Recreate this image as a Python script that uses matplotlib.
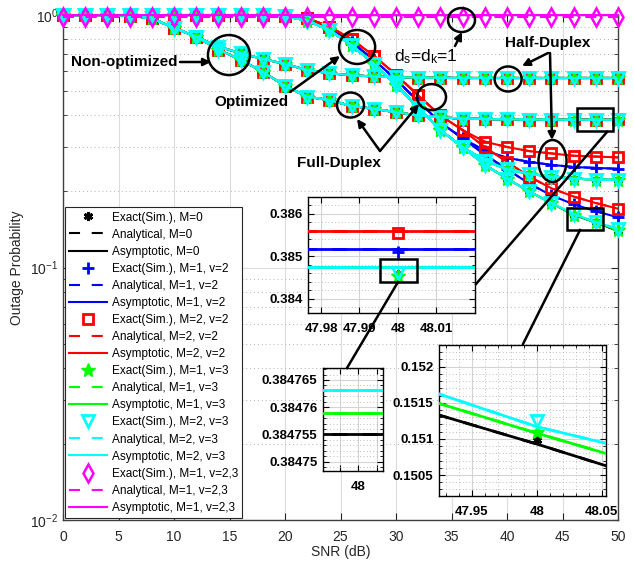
import matplotlib
matplotlib.use('Agg')
import numpy as np
import matplotlib.pyplot as plt
from matplotlib.patches import Ellipse, Rectangle
from matplotlib.lines import Line2D
from matplotlib.ticker import LogLocator, MultipleLocator, FormatStrFormatter, NullFormatter

plt.rcParams['font.family'] = ['Liberation Sans', 'DejaVu Sans']
plt.rcParams['mathtext.fontset'] = 'custom'
plt.rcParams['mathtext.rm'] = 'Liberation Sans'
plt.rcParams['mathtext.it'] = 'Liberation Sans:italic'
plt.rcParams['mathtext.bf'] = 'Liberation Sans:bold'

# SNR grid used by every curve (dB)
snr_db = [0, 2, 4, 6, 8, 10, 12, 14, 16, 18, 20, 22, 24, 26, 28, 30, 32, 34, 36, 38, 40, 42, 44, 46, 48, 50]

cases = ['M=0', 'M=1, v=2', 'M=2, v=2', 'M=1, v=3', 'M=2, v=3']

# non-optimized half-duplex (same for every case)
hd_plain = [1.0, 1.0, 1.0, 0.995, 0.97, 0.89, 0.82, 0.75, 0.705, 0.67, 0.64, 0.605, 0.588,
            0.577, 0.571, 0.567, 0.565, 0.564, 0.563, 0.563, 0.563, 0.563, 0.563, 0.563, 0.563, 0.563]

# non-optimized full-duplex up to 44 dB, then the floor of each case (46-50 dB)
fd_plain_head = [1.0, 1.0, 1.0, 0.995, 0.97, 0.89, 0.82, 0.73, 0.665, 0.595, 0.525, 0.475,
                 0.46, 0.436, 0.425, 0.412, 0.40, 0.393, 0.389, 0.387, 0.386, 0.3855, 0.3852]
fd_plain_floor = [0.384755, 0.38518, 0.38561, 0.384759, 0.3847632]

# optimized: descent up to 36 dB
opt_head_low = [1.0, 1.0, 1.0, 1.0, 1.0, 1.0, 1.0, 1.0, 1.0, 1.0,
                0.99, 0.95, 0.87, 0.76, 0.64, 0.53, 0.43, 0.35, 0.30]
opt_head_m1v2 = [1.0, 1.0, 1.0, 1.0, 1.0, 1.0, 1.0, 1.0, 1.0, 1.0,
                 0.99, 0.96, 0.88, 0.78, 0.665, 0.555, 0.455, 0.375, 0.325]
opt_head_m2v2 = [1.0, 1.0, 1.0, 1.0, 1.0, 1.0, 1.0, 1.0, 1.0, 1.0,
                 0.995, 0.97, 0.90, 0.80, 0.69, 0.58, 0.48, 0.40, 0.35]
opt_head = [opt_head_low, opt_head_m1v2, opt_head_m2v2, opt_head_low, opt_head_low]

# optimized tails, 38-50 dB
hd_opt_tail = [
    [0.265, 0.245, 0.235, 0.229, 0.225, 0.223, 0.222],
    [0.29, 0.272, 0.262, 0.255, 0.25, 0.248, 0.246],
    [0.315, 0.300, 0.289, 0.283, 0.277, 0.275, 0.273],
    [0.265, 0.245, 0.235, 0.229, 0.225, 0.223, 0.222],
    [0.265, 0.245, 0.235, 0.229, 0.225, 0.223, 0.222],
]
fd_opt_tail = [
    [0.255, 0.225, 0.200, 0.180, 0.16159, 0.15093, 0.13961],
    [0.28, 0.245, 0.215, 0.193, 0.178, 0.167, 0.158],
    [0.30, 0.262, 0.229, 0.206, 0.191, 0.180, 0.171],
    [0.255, 0.225, 0.200, 0.180, 0.16202, 0.15108, 0.14052],
    [0.255, 0.225, 0.200, 0.180, 0.1632, 0.15117, 0.1425],
]

# simulated points at 48 dB (full-duplex)
sim48_fd_plain = [0.38458, 0.38511, 0.38555, 0.38455, 0.38462]
sim48_fd_opt = [0.15098, 0.167, 0.180, 0.15109, 0.15125]

# d_s = d_k = 1, M=1, v=2,3
ds1_sim = [0.985, 0.985, 0.985, 0.985, 0.985, 0.985, 0.985, 0.985, 0.985, 0.985, 0.985, 0.985, 0.985,
           0.985, 0.985, 0.985, 0.985, 0.985, 0.985, 0.985, 0.985, 0.985, 0.985, 0.985, 0.985, 0.985]
ds1_asym = [1.0, 1.0, 1.0, 1.0, 1.0, 1.0, 1.0, 1.0, 1.0, 1.0, 1.0, 1.0, 1.0,
            1.0, 1.0, 1.0, 1.0, 1.0, 1.0, 1.0, 1.0, 1.0, 1.0, 1.0, 1.0, 1.0]

colors = ['#000000', '#0000ff', '#ff0000', '#00ff00', '#00ffff']
MAGENTA = '#ff00ff'
marks = [dict(marker=(6, 2, 0), ms=6.5, mew=2),
         dict(marker='+', ms=8, mew=2),
         dict(marker='s', ms=7, mew=2, mfc='none'),
         dict(marker='*', ms=10.5, mew=1),
         dict(marker='v', ms=9, mew=2, mfc='none')]
DASH = (0, (5.3, 5.6))

W, H = 634, 571
i48 = snr_db.index(48)


def fp(x, y):
    # figure pixel (from top-left) -> figure fraction
    return x / W, 1 - y / H


def box(x0, y0, x1, y1):
    return [x0 / W, 1 - y1 / H, (x1 - x0) / W, (y1 - y0) / H]


def curves(i):
    f = fd_plain_floor[i]
    fd_p = fd_plain_head + [f, f, f]
    hd_o = opt_head[i] + hd_opt_tail[i]
    fd_o = opt_head[i] + fd_opt_tail[i]
    lines = [hd_plain, fd_p, hd_o, fd_o]
    fd_p_sim = list(fd_p)
    fd_p_sim[i48] = sim48_fd_plain[i]
    fd_o_sim = list(fd_o)
    fd_o_sim[i48] = sim48_fd_opt[i]
    return lines, [hd_plain, fd_p_sim, hd_o, fd_o_sim]


def draw_all(a, lw, clip):
    for i, case in enumerate(cases):
        c = colors[i]
        lines, sims = curves(i)
        for k, y in enumerate(sims):
            a.plot(snr_db, y, ls='none', color=c, clip_on=clip, zorder=3,
                   label=f'Exact(Sim.), {case}' if k == 0 else None, **marks[i])
        for k, y in enumerate(lines):
            a.plot(snr_db, y, ls=DASH, color=c, lw=lw, zorder=3,
                   label=f'Analytical, {case}' if k == 0 else None)
        for k, y in enumerate(lines):
            a.plot(snr_db, y, '-', color=c, lw=lw, zorder=3,
                   label=f'Asymptotic, {case}' if k == 0 else None)
    a.plot(snr_db, ds1_sim, ls='none', color=MAGENTA, marker='d', ms=9.2, mew=1.8, mfc='none',
           clip_on=clip, zorder=3, label='Exact(Sim.), M=1, v=2,3')
    a.plot(snr_db, ds1_sim, ls=DASH, color=MAGENTA, lw=lw, zorder=3, label='Analytical, M=1, v=2,3')
    a.plot(snr_db, ds1_asym, '-', color=MAGENTA, lw=lw, zorder=3, clip_on=clip,
           label='Asymptotic, M=1, v=2,3')


fig = plt.figure(figsize=(W / 100, H / 100), dpi=100)
ax = fig.add_axes(box(63, 15, 618, 520))
draw_all(ax, 1.5, False)

ax.set_yscale('log')
ax.set_xlim(0, 50)
ax.set_ylim(1e-2, 1)
ax.xaxis.set_major_locator(MultipleLocator(5))
ax.yaxis.set_major_locator(LogLocator(base=10))
ax.yaxis.set_minor_locator(LogLocator(base=10, subs=np.arange(2, 10)))
ax.yaxis.set_minor_formatter(NullFormatter())
ax.set_axisbelow(True)
ax.grid(which='major', color='#dcdcdc', lw=0.8, ls='-')
ax.grid(which='minor', axis='y', color='#b0b0b0', lw=0.7, ls=(0, (1, 3)))
ax.tick_params(which='both', direction='in', top=True, right=True, colors='#262626', labelsize=10)
ax.tick_params(which='major', length=5)
ax.tick_params(which='minor', length=3)
ax.tick_params(axis='x', pad=7)
for s in ax.spines.values():
    s.set_color('#404040')
    s.set_linewidth(1)
ax.set_xlabel('SNR (dB)', fontsize=10, color='#262626', labelpad=1)
ax.set_ylabel('Outage Probability', fontsize=10, color='#262626')

leg = ax.legend(loc='lower left', bbox_to_anchor=(0.004, 0.004), borderaxespad=0, fontsize=8.5,
                handlelength=3.2, handletextpad=0.4, labelspacing=0.43, borderpad=0.35,
                fancybox=False, edgecolor='#262626', framealpha=1, numpoints=1)
leg.get_frame().set_linewidth(0.8)
leg.set_zorder(20)

# annotations on the main axes
AX_W, AX_H = 555, 505


def ring(x, y, w, h):
    cx, cy = ax.transAxes.inverted().transform(ax.transData.transform((x, y)))
    ax.add_patch(Ellipse((cx, cy), w / AX_W, h / AX_H, transform=ax.transAxes,
                         fill=False, ec='k', lw=1.8, zorder=8, clip_on=False))


ring(14.95, 0.694, 42, 40)
ring(26.5, 0.747, 36, 34)
ring(35.9, 0.955, 27, 24)
ring(40.1, 0.558, 27, 25)
ring(44.1, 0.264, 28, 42)
ring(25.9, 0.440, 27, 25)
ring(33.2, 0.473, 29, 26)

ax.add_patch(Rectangle((46.3, 0.3475), 3.25, 0.0805, fill=False, ec='k', lw=1.8, zorder=8))
ax.add_patch(Rectangle((45.4, 0.141), 3.25, 0.031, fill=False, ec='k', lw=1.8, zorder=8))


def arrow(x0, y0, x1, y1):
    ax.annotate('', xy=fp(x1, y1), xytext=fp(x0, y0), xycoords='figure fraction',
                textcoords='figure fraction', annotation_clip=False,
                arrowprops=dict(arrowstyle='-|>', lw=1.8, color='k', mutation_scale=11,
                                shrinkA=0, shrinkB=0))


def label(x, y, s, **kw):
    fig.text(*fp(x, y), s, ha='center', va='center', **kw)


label(124, 62, 'Non-optimized', fontsize=11, fontweight='bold')
arrow(180, 62, 211, 62)
label(251, 102, 'Optimized', fontsize=11, fontweight='bold')
arrow(290, 92, 340, 56)
label(426, 57, r'd$_\mathrm{s}$=d$_\mathrm{k}$=1', fontsize=12.5)
arrow(455, 46, 462, 32)
label(548, 43, 'Half-Duplex', fontsize=11, fontweight='bold')
arrow(548, 53, 522, 66)
arrow(550, 53, 552, 140)
label(339, 163, 'Full-Duplex', fontsize=11, fontweight='bold')
arrow(380, 151, 357, 119)
arrow(380, 151, 419, 104)


def style_inset(a, xt, yt, ymin_step, xmin_step=None):
    a.set_facecolor('white')
    a.set_xticks(xt)
    a.set_yticks(yt)
    a.yaxis.set_minor_locator(MultipleLocator(ymin_step))
    if xmin_step:
        a.xaxis.set_minor_locator(MultipleLocator(xmin_step))
    a.xaxis.set_major_formatter(FormatStrFormatter('%g'))
    a.yaxis.set_major_formatter(FormatStrFormatter('%g'))
    a.set_axisbelow(True)
    a.grid(which='major', color='#d4d4d4', lw=0.8)
    a.grid(which='minor', color='#a8a8a8', lw=0.6, ls=(0, (1, 3)))
    a.tick_params(which='both', direction='in', top=True, right=True, labelsize=9.5)
    a.tick_params(which='major', length=4)
    a.tick_params(which='minor', length=2)
    a.tick_params(axis='x', pad=7)
    a.tick_params(axis='y', pad=4)
    for s in a.spines.values():
        s.set_color('k')
        s.set_linewidth(1)
    for t in a.get_xticklabels() + a.get_yticklabels():
        t.set_fontweight('bold')


# zoom on the full-duplex floor at 48 dB
ins1 = fig.add_axes(box(308, 197, 475, 313))
draw_all(ins1, 2, True)
ins1.set_xlim(47.9766, 48.0202)
ins1.set_ylim(0.38367, 0.3864)
style_inset(ins1, [47.98, 47.99, 48, 48.01], [0.384, 0.385, 0.386], 0.0002)
ins1.add_patch(Rectangle((47.9954, 0.3844), 0.0097, 0.00054, fill=False, ec='k', lw=1.8, zorder=8))

# second level zoom
ins3 = fig.add_axes(box(323, 368, 383, 471))
draw_all(ins3, 2, True)
ins3.set_xlim(47.99962, 48.00027)
ins3.set_ylim(0.3847483, 0.3847672)
style_inset(ins3, [47.9998, 48, 48.0002], [0.38475, 0.384755, 0.38476, 0.384765], 0.000001)
ins3.set_xticklabels(['', '48', ''], fontweight='bold')

# zoom on the optimized full-duplex curves at 48 dB
ins2 = fig.add_axes(box(439, 345, 606, 496))
draw_all(ins2, 2, True)
ins2.set_xlim(47.9249, 48.0533)
ins2.set_ylim(0.15021, 0.1523)
style_inset(ins2, [47.95, 48, 48.05], [0.1505, 0.151, 0.1515, 0.152], 0.0001, 0.01)

# connector lines between zoom boxes and insets
for (x0, y0), (x1, y1) in [((607, 132), (476, 284)), ((398, 282), (347, 368)),
                           ((580, 230), (523, 344))]:
    fig.add_artist(Line2D([x0 / W, x1 / W], [1 - y0 / H, 1 - y1 / H], color='k', lw=1.8,
                          transform=fig.transFigure, zorder=30))

fig.savefig('out.png', dpi=100)
